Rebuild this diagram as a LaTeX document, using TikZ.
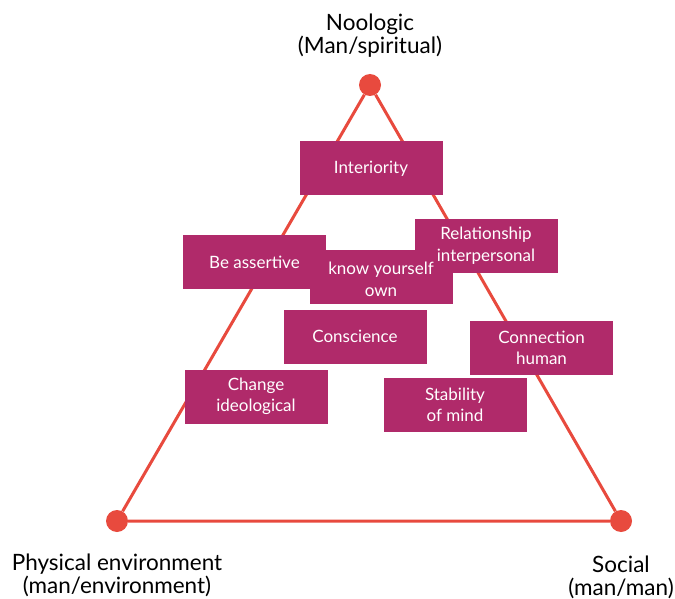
\documentclass[tikz,border=0pt]{standalone}
\usepackage{fontspec}
\setmainfont{Lato}
\usepackage{tikz}
\usetikzlibrary{positioning}
\definecolor{trired}{RGB}{232,74,62}
\definecolor{boxmag}{RGB}{176,42,106}

\begin{document}
\begin{tikzpicture}[x=1pt,y=-1pt,
  dot/.style={circle,fill=trired,inner sep=0pt,minimum size=22pt},
  side/.style={trired,line width=3pt},
  boxtext/.style={text=white,align=center,inner sep=0pt,
    font=\fontsize{17}{21.5}\selectfont},
  itembox/.style={boxtext,fill=boxmag,minimum width=143pt,minimum height=54pt},
  cornerlbl/.style={align=center,font=\fontsize{22.5}{23}\selectfont}]
  \useasboundingbox[fill=white] (0,0) rectangle (675,599);
  % corners of the triangle
  \node[dot] (noo) at (370,85) {};
  \node[dot] (phys) at (117,521) {};
  \node[dot] (soc) at (621,521) {};
  \draw[side] (noo) -- (phys) -- (soc) -- (noo);
  \node[cornerlbl] (noolbl) at (370,35.5) {Noologic\\(Man/spiritual)};
  \node[cornerlbl] (physlbl) at (117,575) {Physical environment\\(man/environment)};
  \node[cornerlbl] (soclbl) at (621,577) {Social\\(man/man)};
  % the boxes, back to front
  \node[itembox] (inter) at (371,168.5) {Interiority};
  \node[itembox] (assert) at (254.5,262) {Be assertive};
  \node[itembox] (knowbg) at (381,276.5) {};
  \node[itembox] (relat) at (486,245.5) {Relationship\\interpersonal};
  \node[boxtext,yshift=-3pt] (know) at (knowbg) {know yourself\\own};
  \node[itembox] (consc) at (355,336.5) {Conscience};
  \node[itembox] (conn) at (541.5,348) {Connection\\human};
  \node[itembox] (change) at (256,396.5) {Change\\ideological};
  \node[itembox] (stab) at (455,405) {Stability\\of mind};
\end{tikzpicture}
\end{document}
